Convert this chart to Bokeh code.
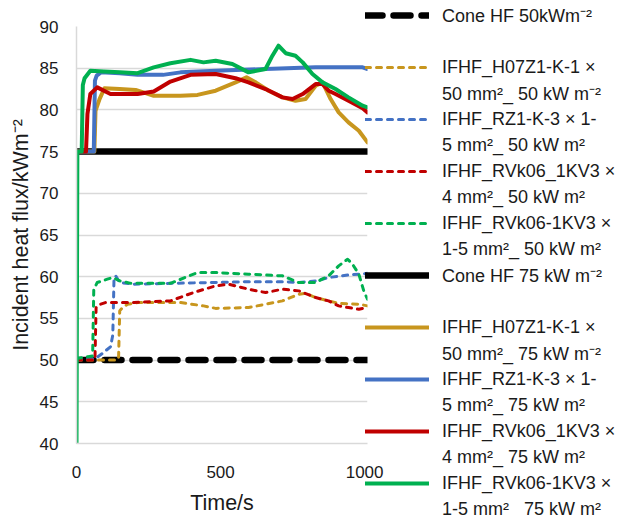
from bokeh.plotting import figure
from bokeh.models import Range1d, FixedTicker, Legend, LegendItem
from bokeh.embed import file_html
from bokeh.resources import INLINE

# ---------------- data ----------------
x_ticks = [0, 500, 1000]
y_ticks = [40, 45, 50, 55, 60, 65, 70, 75, 80, 85, 90]

cone50_t = [0, 1010]
cone50_v = [50, 50]
cone75_t = [0, 1010]
cone75_v = [75, 75]

# 50 kW m-2 series (dashed)
h07_50_t = [0, 140, 146, 150, 160, 177, 212, 300, 361, 441, 483, 597, 656, 715, 771, 795, 830, 875, 910, 980, 1010]
h07_50_v = [50, 50, 50.2, 55.9, 56.3, 56.7, 56.9, 56.9, 56.9, 56.5, 56.2, 56.3, 56.7, 57.1, 57.9, 58.0, 57.5, 57.1, 56.8, 56.7, 56.5]

rz1_50_t = [0, 66, 90, 118, 126, 130, 136, 150, 200, 326, 465, 597, 715, 771, 830, 875, 941, 980, 1010]
rz1_50_v = [50, 50.2, 50.8, 51.6, 53.0, 59.5, 60.1, 59.3, 59.1, 59.2, 59.3, 59.4, 59.4, 59.3, 59.5, 59.9, 60.2, 60.3, 60.4]

rvk4_50_t = [0, 64, 68, 75, 100, 200, 326, 406, 483, 528, 597, 656, 715, 771, 830, 875, 910, 944, 980, 1010]
rvk4_50_v = [50, 50, 56.3, 56.6, 56.9, 56.9, 57.1, 58.1, 58.9, 59.1, 58.5, 58.1, 58.5, 58.3, 57.5, 57.1, 56.5, 56.3, 56.1, 56.3]

rvk15_50_t = [0, 40, 56, 60, 72, 90, 107, 125, 150, 188, 326, 420, 483, 597, 715, 771, 830, 875, 910, 941, 958, 980, 997, 1010]
rvk15_50_v = [50.2, 50.4, 50.5, 58.5, 59.3, 59.5, 59.7, 59.9, 59.5, 59.2, 59.2, 60.5, 60.5, 60.3, 60.1, 59.3, 59.3, 60.1, 61.3, 62.1, 61.5, 60.3, 58.3, 57.3]

# 75 kW m-2 series (solid)
h07_75_t = [0, 62, 66, 80, 97, 150, 205, 240, 268, 361, 420, 483, 552, 590, 622, 667, 715, 760, 795, 830, 854, 882, 910, 944, 980, 1010]
h07_75_v = [75, 75, 79.9, 81.3, 82.6, 82.5, 82.4, 82.0, 81.7, 81.7, 81.8, 82.3, 83.3, 83.9, 83.3, 82.3, 81.5, 81.1, 81.3, 82.9, 83.3, 81.3, 79.7, 78.5, 77.5, 76.1]

rz1_75_t = [0, 60, 64, 70, 85, 150, 212, 300, 361, 483, 656, 830, 993, 1010]
rz1_75_v = [75, 75, 83.5, 84.1, 84.5, 84.4, 84.2, 84.2, 84.5, 84.7, 84.9, 85.1, 85.1, 84.9]

rvk4_75_t = [0, 33, 38, 48, 72, 118, 212, 268, 326, 396, 483, 552, 597, 656, 715, 750, 785, 830, 854, 875, 899, 944, 993, 1010]
rvk4_75_v = [75, 75, 79.5, 81.9, 82.7, 81.9, 81.9, 82.2, 83.4, 84.2, 84.3, 83.8, 83.3, 82.5, 81.5, 81.3, 81.9, 83.1, 83.1, 82.3, 81.9, 81.1, 80.2, 79.7]

rvk15_75_t = [0, 3, 18, 22, 28, 48, 95, 150, 212, 268, 326, 396, 441, 483, 541, 597, 656, 680, 701, 726, 760, 785, 819, 854, 899, 944, 993, 1010]
rvk15_75_v = [40, 75, 75, 83.0, 83.8, 84.7, 84.6, 84.5, 84.4, 85.1, 85.6, 86.0, 85.7, 85.9, 85.5, 84.5, 84.9, 86.5, 87.7, 86.8, 86.5, 85.7, 84.3, 83.3, 82.5, 81.5, 80.5, 80.3]

leg_line1 = ["Cone HF 50kWm\u207b\u00b2", "IFHF_H07Z1-K-1 \u00d7", "IFHF_RZ1-K-3 \u00d7 1-",
             "IFHF_RVk06_1KV3 \u00d7", "IFHF_RVk06-1KV3 \u00d7", "Cone HF 75 kW m\u207b\u00b2",
             "IFHF_H07Z1-K-1 \u00d7", "IFHF_RZ1-K-3 \u00d7 1-", "IFHF_RVk06_1KV3 \u00d7",
             "IFHF_RVk06-1KV3 \u00d7"]
leg_line2 = ["", "50 mm\u00b2_ 50 kW m\u207b\u00b2", "5 mm\u00b2_ 50 kW m\u00b2", "4 mm\u00b2_ 50 kW m\u00b2",
             "1-5 mm\u00b2_ 50 kW m\u00b2", "", "50 mm\u00b2_ 75 kW m\u207b\u00b2", "5 mm\u00b2_ 75 kW m\u00b2",
             "4 mm\u00b2_ 75 kW m\u00b2", "1-5 mm\u00b2_ 75 kW m\u00b2"]

# ---------------- styles ----------------
GOLD, BLUE, RED, GREEN, BLACK = "#C8961E", "#4472C4", "#C00000", "#00B050", "#000000"
FONT = "Liberation Sans"
TXT = "#1a1a1a"

series = [
    (cone50_t, cone50_v, BLACK, 6.5, "17 11"),
    (h07_50_t, h07_50_v, GOLD, 3, "5 6"),
    (rz1_50_t, rz1_50_v, BLUE, 3, "5 6"),
    (rvk4_50_t, rvk4_50_v, RED, 3, "5 6"),
    (rvk15_50_t, rvk15_50_v, GREEN, 3, "5 6"),
    (cone75_t, cone75_v, BLACK, 6.5, "solid"),
    (h07_75_t, h07_75_v, GOLD, 4, "solid"),
    (rz1_75_t, rz1_75_v, BLUE, 4, "solid"),
    (rvk4_75_t, rvk4_75_v, RED, 4, "solid"),
    (rvk15_75_t, rvk15_75_v, GREEN, 4, "solid"),
]

p = figure(frame_width=291, frame_height=417, x_range=Range1d(0, 1010), y_range=Range1d(40, 90),
           output_backend="svg", toolbar_location=None,
           min_border_left=76, min_border_right=0, min_border_top=26, min_border_bottom=75)
p.outline_line_color = None
p.xgrid.visible = False
p.ygrid.ticker = FixedTicker(ticks=y_ticks)
p.ygrid.grid_line_color = "#D9D9D9"
p.ygrid.grid_line_width = 1.5

p.xaxis.ticker = FixedTicker(ticks=x_ticks)
p.yaxis.ticker = FixedTicker(ticks=y_ticks)
for ax in (p.xaxis, p.yaxis):
    ax.axis_line_color = "#D9D9D9"
    ax.axis_line_width = 1.5
    ax.major_tick_line_color = None
    ax.minor_tick_line_color = None
    ax.major_label_text_font = FONT
    ax.major_label_text_font_size = "17px"
    ax.major_label_text_color = TXT
    ax.axis_label_text_font = FONT
    ax.axis_label_text_font_size = "21.5px"
    ax.axis_label_text_font_style = "normal"
    ax.axis_label_text_color = TXT
p.xaxis.axis_label = "Time/s"
p.yaxis.axis_label = "Incident heat flux/kWm\u207b\u00b2"
p.xaxis.major_label_standoff = 16
p.xaxis.axis_label_standoff = 10
p.yaxis.major_label_standoff = 12
p.yaxis.axis_label_standoff = 4

renderers = []
for t, v, col, w, dash in series:
    r = p.line(t, v, line_color=col, line_width=w, line_dash=dash, line_cap="round", line_join="round")
    renderers.append(r)

# ---------------- legend ----------------
items = []
for i, r in enumerate(renderers):
    blank = p.line([], [], line_color="white", line_alpha=0)
    items.append(LegendItem(label=leg_line1[i], renderers=[r]))
    items.append(LegendItem(label=leg_line2[i] if leg_line2[i] else " ", renderers=[blank]))

legend = Legend(items=items, location=(-2, -79), orientation="vertical", nrows=len(items),
                padding=0, margin=0, spacing=0,
                glyph_width=64, glyph_height=26, label_height=26, label_standoff=13,
                label_text_font=FONT, label_text_font_size="18px", label_text_color=TXT,
                label_text_baseline="middle",
                border_line_color=None, background_fill_alpha=0)
p.add_layout(legend, "right")

open("out.html", "w").write(file_html(p, INLINE))
